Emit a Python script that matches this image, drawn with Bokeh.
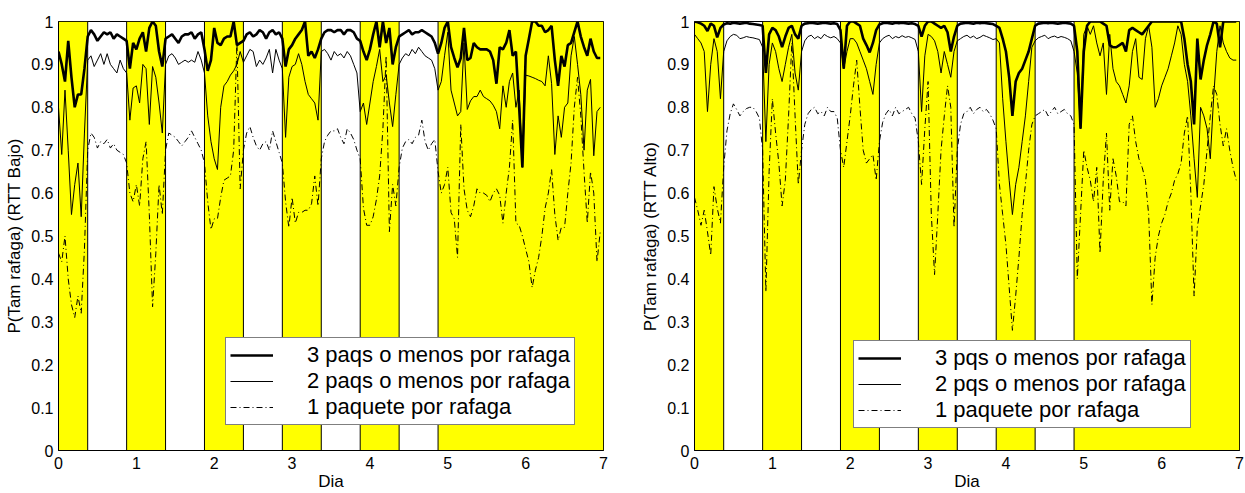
from bokeh.plotting import figure
from bokeh.layouts import row
from bokeh.models import Range1d, FixedTicker, Legend, LegendItem, ColumnDataSource
from bokeh.embed import file_html
from bokeh.resources import INLINE

# ---------------- data ----------------
horas = list(range(168))                 # hourly samples over one week
dia = [h / 24 for h in horas]            # day axis

# night / weekend periods (yellow background)
banda_ini = [0.0, 0.875, 1.875, 2.875, 3.875, 4.875]
banda_fin = [0.375, 1.375, 2.375, 3.375, 4.375, 7.0]

x_ticks = [0, 1, 2, 3, 4, 5, 6, 7]
y_ticks = [0, 0.1, 0.2, 0.3, 0.4, 0.5, 0.6, 0.7, 0.8, 0.9, 1]

# RTT Bajo
bajo_3 = [
    0.93, 0.90, 0.86, 0.955, 0.87, 0.80, 0.83, 0.83, 0.89, 0.965, 0.98, 0.97, 0.955, 0.965, 0.975, 0.97, 0.975, 0.96, 0.97, 0.965, 0.96, 0.955, 0.89, 0.95,
    0.935, 0.96, 0.975, 0.93, 0.985, 1.0, 0.99, 0.93, 0.895, 0.96, 0.965, 0.97, 0.96, 0.95, 0.965, 0.97, 0.97, 0.975, 0.96, 0.97, 0.975, 0.935, 0.885, 0.91,
    0.985, 0.95, 0.945, 0.96, 0.965, 0.965, 1.0, 0.945, 0.95, 0.955, 0.97, 0.975, 0.965, 0.97, 0.98, 0.975, 0.96, 0.975, 0.98, 0.97, 0.975, 0.96, 0.895, 0.935,
    0.945, 0.96, 0.97, 0.98, 1.0, 0.92, 0.93, 0.915, 0.935, 0.96, 0.975, 0.98, 0.98, 0.975, 0.98, 0.98, 0.97, 0.98, 0.98, 0.975, 0.96, 0.955, 0.93, 0.91,
    0.935, 0.97, 1.0, 0.94, 1.0, 0.95, 0.985, 0.90, 0.94, 0.965, 0.97, 0.975, 0.98, 0.97, 0.975, 0.975, 0.98, 0.975, 0.97, 0.965, 0.95, 0.925, 0.95, 0.985,
    1.0, 0.94, 0.915, 0.893, 0.915, 0.985, 0.91, 0.915, 0.95, 0.94, 0.935, 0.935, 0.935, 0.93, 0.91, 0.855, 0.94, 0.935, 0.95, 0.98, 0.92, 0.93, 0.80, 0.66,
    0.92, 0.96, 1.0, 1.0, 0.99, 0.99, 0.975, 0.98, 0.99, 0.91, 0.85, 0.92, 0.895, 0.945, 0.95, 0.975, 1.0, 0.965, 0.94, 0.92, 0.96, 0.93, 0.915, 0.915,
]
bajo_2 = [
    0.80, 0.69, 0.84, 0.70, 0.55, 0.62, 0.67, 0.545, 0.74, 0.91, 0.92, 0.895, 0.91, 0.925, 0.90, 0.925, 0.90, 0.89, 0.88, 0.91, 0.89, 0.88, 0.77, 0.845,
    0.85, 0.81, 0.90, 0.89, 0.76, 0.895, 0.87, 0.81, 0.74, 0.90, 0.92, 0.925, 0.915, 0.90, 0.905, 0.91, 0.905, 0.91, 0.905, 0.93, 0.91, 0.88, 0.78, 0.72,
    0.68, 0.655, 0.80, 0.85, 0.86, 0.875, 0.885, 0.90, 0.93, 0.905, 0.92, 0.935, 0.93, 0.895, 0.91, 0.90, 0.915, 0.935, 0.88, 0.935, 0.91, 0.89, 0.73, 0.87,
    0.895, 0.90, 0.925, 0.90, 0.86, 0.83, 0.82, 0.81, 0.77, 0.93, 0.935, 0.925, 0.91, 0.93, 0.92, 0.925, 0.915, 0.93, 0.92, 0.90, 0.88, 0.79, 0.81, 0.76,
    0.81, 0.86, 0.895, 0.935, 0.86, 0.875, 0.81, 0.755, 0.83, 0.90, 0.915, 0.925, 0.92, 0.935, 0.925, 0.94, 0.93, 0.92, 0.915, 0.91, 0.89, 0.84, 0.86, 0.92,
    0.975, 0.84, 0.81, 0.78, 0.79, 0.95, 0.795, 0.815, 0.825, 0.825, 0.84, 0.825, 0.82, 0.815, 0.805, 0.79, 0.75, 0.85, 0.80, 0.86, 0.88, 0.80, 0.84, 0.66,
    0.875, 0.873, 0.87, 0.867, 0.863, 0.86, 0.85, 0.92, 0.855, 0.69, 0.78, 0.73, 0.80, 0.81, 0.92, 0.965, 0.90, 0.83, 0.70, 0.84, 0.865, 0.687, 0.79, 0.80,
]
bajo_1 = [
    0.46, 0.44, 0.50, 0.40, 0.34, 0.31, 0.36, 0.32, 0.47, 0.70, 0.74, 0.73, 0.705, 0.72, 0.715, 0.725, 0.705, 0.715, 0.70, 0.695, 0.69, 0.67, 0.60, 0.58,
    0.62, 0.57, 0.68, 0.72, 0.55, 0.335, 0.46, 0.62, 0.55, 0.70, 0.74, 0.735, 0.73, 0.72, 0.71, 0.72, 0.73, 0.745, 0.73, 0.715, 0.70, 0.67, 0.58, 0.515,
    0.54, 0.54, 0.59, 0.63, 0.635, 0.64, 0.70, 0.95, 0.61, 0.70, 0.74, 0.755, 0.73, 0.71, 0.70, 0.715, 0.72, 0.70, 0.745, 0.72, 0.695, 0.67, 0.58, 0.52,
    0.59, 0.53, 0.555, 0.555, 0.56, 0.56, 0.575, 0.64, 0.57, 0.68, 0.72, 0.735, 0.745, 0.745, 0.75, 0.73, 0.715, 0.75, 0.74, 0.725, 0.70, 0.68, 0.565, 0.525,
    0.525, 0.545, 0.585, 0.64, 0.75, 0.92, 0.51, 0.62, 0.57, 0.66, 0.705, 0.72, 0.725, 0.715, 0.73, 0.735, 0.77, 0.72, 0.70, 0.715, 0.725, 0.65, 0.60, 0.62,
    0.66, 0.555, 0.54, 0.45, 0.76, 0.61, 0.56, 0.545, 0.57, 0.61, 0.60, 0.60, 0.595, 0.58, 0.60, 0.61, 0.595, 0.53, 0.60, 0.66, 0.77, 0.53, 0.525, 0.50,
    0.47, 0.44, 0.38, 0.42, 0.45, 0.50, 0.565, 0.60, 0.655, 0.55, 0.49, 0.52, 0.52, 0.60, 0.67, 0.80, 0.87, 0.78, 0.65, 0.53, 0.65, 0.60, 0.44, 0.51,
]

# RTT Alto
alto_3 = [
    1.0, 0.998, 0.995, 0.99, 0.978, 0.995, 0.99, 0.963, 0.985, 0.993, 0.996, 0.995, 0.997, 0.996, 0.995, 0.996, 0.997, 0.995, 0.994, 0.993, 0.992, 0.99, 0.88, 0.97,
    0.985, 0.98, 0.965, 0.94, 0.965, 0.985, 0.99, 0.97, 0.96, 0.99, 0.995, 0.996, 0.997, 0.996, 0.995, 0.996, 0.997, 0.996, 0.995, 0.996, 0.994, 0.98, 0.89, 0.99,
    1.0, 1.0, 0.995, 0.99, 0.96, 0.945, 0.928, 0.95, 0.98, 0.993, 0.996, 0.997, 0.996, 0.995, 0.997, 0.996, 0.997, 0.996, 0.995, 0.996, 0.994, 0.99, 0.965, 0.99,
    1.0, 1.0, 0.995, 0.99, 0.985, 0.99, 0.975, 0.93, 0.965, 0.99, 0.995, 0.996, 0.997, 0.996, 0.995, 0.997, 0.996, 0.997, 0.996, 0.995, 0.994, 0.99, 0.985, 0.96,
    0.93, 0.87, 0.78, 0.86, 0.88, 0.89, 0.91, 0.93, 0.96, 0.99, 0.995, 0.996, 0.997, 0.996, 0.997, 0.996, 0.995, 0.996, 0.997, 0.996, 0.995, 0.99, 0.93, 0.75,
    0.93, 0.99, 1.0, 1.0, 1.0, 1.0, 0.995, 0.99, 0.945, 0.94, 0.94, 0.945, 0.95, 0.93, 0.98, 0.985, 0.98, 0.975, 0.97, 0.98, 0.99, 1.0, 1.0, 1.0,
    1.0, 1.0, 1.0, 1.0, 1.0, 1.0, 1.0, 0.96, 0.90, 0.86, 0.76, 0.96, 0.865, 0.91, 0.945, 0.97, 1.0, 0.995, 0.94, 1.0, 1.0, 1.0, 1.0, 1.0,
]
alto_2 = [
    0.97, 0.96, 0.95, 0.93, 0.79, 0.90, 0.96, 0.93, 0.82, 0.93, 0.955, 0.965, 0.97, 0.968, 0.96, 0.962, 0.965, 0.963, 0.962, 0.96, 0.958, 0.94, 0.72, 0.90,
    0.95, 0.93, 0.89, 0.86, 0.90, 0.94, 0.97, 0.88, 0.84, 0.93, 0.955, 0.965, 0.968, 0.96, 0.965, 0.96, 0.97, 0.965, 0.962, 0.965, 0.96, 0.95, 0.89, 0.93,
    0.96, 0.96, 0.95, 0.93, 0.91, 0.89, 0.86, 0.83, 0.90, 0.95, 0.96, 0.965, 0.968, 0.96, 0.965, 0.962, 0.967, 0.963, 0.965, 0.962, 0.958, 0.93, 0.79, 0.92,
    0.97, 0.965, 0.955, 0.93, 0.88, 0.93, 0.90, 0.87, 0.93, 0.955, 0.96, 0.965, 0.968, 0.962, 0.966, 0.96, 0.963, 0.968, 0.965, 0.962, 0.958, 0.96, 0.95, 0.82,
    0.72, 0.63, 0.55, 0.62, 0.66, 0.72, 0.78, 0.86, 0.94, 0.955, 0.962, 0.965, 0.968, 0.96, 0.964, 0.966, 0.962, 0.965, 0.963, 0.96, 0.955, 0.93, 0.88, 0.75,
    0.97, 0.99, 0.97, 0.99, 0.95, 0.92, 0.95, 0.83, 0.97, 0.89, 0.86, 0.85, 0.83, 0.81, 0.85, 0.93, 0.96, 0.87, 0.865, 0.96, 0.99, 0.94, 0.80, 0.82,
    0.85, 0.87, 0.89, 0.92, 0.95, 0.99, 0.97, 0.90, 0.86, 0.78, 0.68, 0.59, 0.80, 0.78, 0.75, 0.68, 0.82, 0.93, 0.99, 0.95, 0.93, 0.915, 0.91, 0.91,
]
alto_1 = [
    0.59, 0.56, 0.525, 0.56, 0.51, 0.455, 0.615, 0.565, 0.53, 0.66, 0.745, 0.785, 0.808, 0.795, 0.78, 0.79, 0.797, 0.80, 0.80, 0.79, 0.775, 0.70, 0.37, 0.65,
    0.82, 0.74, 0.67, 0.57, 0.63, 0.78, 0.95, 0.78, 0.62, 0.70, 0.76, 0.785, 0.795, 0.80, 0.785, 0.79, 0.78, 0.80, 0.79, 0.79, 0.775, 0.70, 0.66, 0.72,
    0.78, 0.85, 0.91, 0.80, 0.70, 0.67, 0.68, 0.69, 0.63, 0.72, 0.765, 0.785, 0.795, 0.78, 0.80, 0.785, 0.79, 0.795, 0.80, 0.785, 0.775, 0.72, 0.62, 0.75,
    0.86, 0.55, 0.41, 0.55, 0.70, 0.78, 0.85, 0.80, 0.52, 0.70, 0.76, 0.785, 0.79, 0.80, 0.785, 0.795, 0.80, 0.79, 0.795, 0.785, 0.77, 0.75, 0.62, 0.55,
    0.48, 0.38, 0.28, 0.36, 0.45, 0.55, 0.62, 0.70, 0.76, 0.78, 0.785, 0.79, 0.795, 0.78, 0.79, 0.80, 0.785, 0.79, 0.795, 0.785, 0.78, 0.76, 0.40, 0.55,
    0.70, 0.66, 0.63, 0.58, 0.66, 0.46, 0.63, 0.74, 0.56, 0.68, 0.64, 0.58, 0.58, 0.57, 0.76, 0.78, 0.72, 0.68, 0.66, 0.63, 0.55, 0.34, 0.45, 0.50,
    0.53, 0.55, 0.58, 0.60, 0.63, 0.645, 0.67, 0.74, 0.78, 0.60, 0.36, 0.52, 0.57, 0.62, 0.70, 0.78, 0.85, 0.83, 0.76, 0.71, 0.75, 0.70, 0.66, 0.63,
]

etiquetas_bajo = ["3 paqs o menos por rafaga", "2 paqs o menos por rafaga", "1 paquete por rafaga"]
etiquetas_alto = ["3 pqs o menos por rafaga", "2 pqs o menos por rafaga", "1 paquete por rafaga"]

FONT = "Liberation Sans"


def panel(ylabel, s3, s2, s1, etiquetas, width, border_left, border_right, leg_loc):
    p = figure(width=width, height=493, output_backend="svg", toolbar_location=None,
               x_range=Range1d(0, 7), y_range=Range1d(0, 1),
               min_border_left=border_left, min_border_right=border_right,
               min_border_top=21, min_border_bottom=42)
    p.background_fill_color = "white"
    p.border_fill_color = "white"
    p.outline_line_color = "black"
    p.outline_line_width = 1
    p.grid.visible = False

    p.quad(left=banda_ini, right=banda_fin, bottom=0, top=1,
           fill_color="#FFFF00", line_color="black", line_width=1)

    src = ColumnDataSource(dict(x=dia, s3=s3, s2=s2, s1=s1))
    r3 = p.line("x", "s3", source=src, line_color="black", line_width=2.6)
    r2 = p.line("x", "s2", source=src, line_color="black", line_width=1)
    r1 = p.line("x", "s1", source=src, line_color="black", line_width=1,
                line_dash="6 3 1 3")

    for ax in (p.xaxis[0], p.yaxis[0]):
        ax.major_tick_in = 0
        ax.major_tick_out = 0
        ax.minor_tick_in = 0
        ax.minor_tick_out = 0
        ax.axis_line_color = "black"
        ax.axis_line_width = 1
        ax.major_label_text_font = FONT
        ax.major_label_text_font_size = "16px"
        ax.major_label_text_color = "black"
        ax.axis_label_text_font = FONT
        ax.axis_label_text_font_size = "17px"
        ax.axis_label_text_font_style = "normal"
        ax.axis_label_text_color = "black"

    p.xaxis.ticker = FixedTicker(ticks=x_ticks)
    p.yaxis.ticker = FixedTicker(ticks=y_ticks)
    p.yaxis.major_label_overrides = {0: "0", 1: "1"}
    p.xaxis.axis_label = "Dia"
    p.yaxis.axis_label = ylabel
    p.xaxis.major_label_standoff = 6
    p.xaxis.axis_label_standoff = 0
    p.yaxis.major_label_standoff = 5
    p.yaxis.axis_label_standoff = 4

    leg = Legend(items=[LegendItem(label=etiquetas[0], renderers=[r3]),
                        LegendItem(label=etiquetas[1], renderers=[r2]),
                        LegendItem(label=etiquetas[2], renderers=[r1])],
                 location=leg_loc)
    leg.border_line_color = "black"
    leg.border_line_width = 1
    leg.background_fill_color = "white"
    leg.background_fill_alpha = 1
    leg.label_text_font = FONT
    leg.label_text_font_size = "22px"
    leg.label_text_color = "black"
    leg.glyph_width = 43
    leg.glyph_height = 18
    leg.label_height = 18
    leg.label_standoff = 34
    leg.padding = 4
    leg.spacing = 0
    leg.margin = 0
    p.add_layout(leg, "center")
    return p


p1 = panel("P(Tam rafaga) (RTT Bajo)", bajo_3, bajo_2, bajo_1, etiquetas_bajo,
           620, 58, 17, (167, 25))
p2 = panel("P(Tam rafaga) (RTT Alto)", alto_3, alto_2, alto_1, etiquetas_alto,
           625, 74, 6, (159, 22))

lay = row(p1, p2)
open("out.html", "w").write(file_html(lay, INLINE))
